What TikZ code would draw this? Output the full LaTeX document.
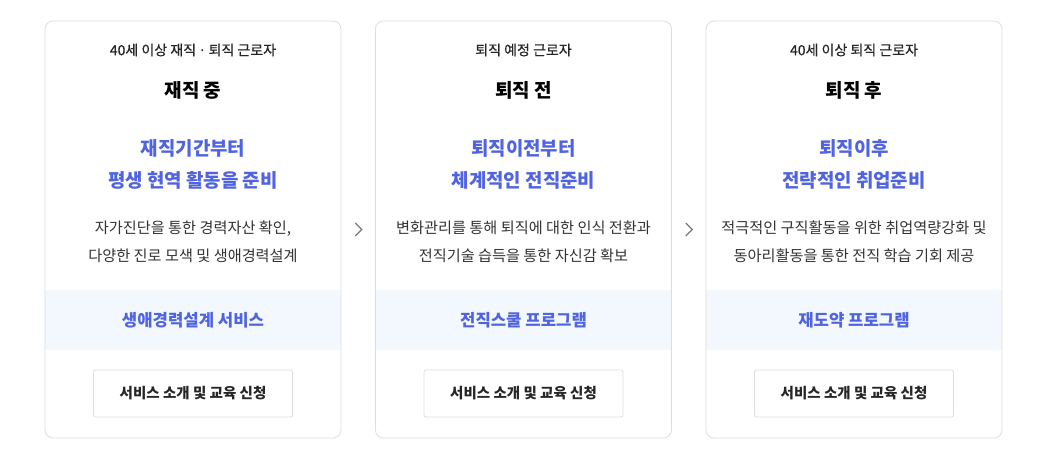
\documentclass[tikz,border=0pt]{standalone}
\usepackage{fontspec}
\setmainfont{Noto Sans CJK KR}
\newfontfamily\medfont{Noto Sans CJK KR}[FakeBold=0.5]
\usetikzlibrary{calc}
\definecolor{cardline}{HTML}{DCDEE2}
\definecolor{bandfill}{HTML}{F3F7FE}
\definecolor{accent}{HTML}{5064E1}
\definecolor{bodytext}{HTML}{333333}
\definecolor{chevgray}{HTML}{7A7A7A}
\tikzset{
	card/.style={draw=cardline,line width=.8pt,rounded corners=8pt,minimum width=296pt,minimum height=417pt,inner sep=0pt},
	band/.style={fill=bandfill,minimum width=296pt,minimum height=60pt,inner sep=0pt,text=accent,font=\fontsize{16.7}{18}\selectfont\bfseries},
	who/.style={text=black!85,font=\fontsize{14}{16}\selectfont\medfont},
	stage/.style={text=black,font=\fontsize{19}{20}\selectfont\bfseries},
	slogan/.style={align=center,text=accent,font=\fontsize{18.9}{32}\selectfont\bfseries},
	desc/.style={align=center,text=bodytext,font=\fontsize{15.2}{28}\selectfont},
	btn/.style={draw=cardline,line width=.8pt,rounded corners=2pt,minimum width=199pt,minimum height=47pt,inner sep=0pt,text=black!85,font=\fontsize{14.5}{16}\selectfont\bfseries},
	chev/.style={draw=chevgray,line width=1.2pt}
}
\begin{document}
\begin{tikzpicture}[x=1pt,y=-1pt]
	\useasboundingbox[fill=white] (0,0) rectangle (1040,453);
	\foreach \cx/\who/\stage/\sloganA/\sloganB/\descA/\descB/\prog[count=\i] in {
			193/40세 이상 재직\,·\,퇴직 근로자/재직 중/재직기간부터/평생 현역 활동을 준비/{자가진단을 통한 경력자산 확인,}/다양한 진로 모색 및 생애경력설계/생애경력설계 서비스,
			523.5/퇴직 예정 근로자/퇴직 전/퇴직이전부터/체계적인 전직준비/변화관리를 통해 퇴직에 대한 인식 전환과/전직기술 습득을 통한 자신감 확보/전직스쿨 프로그램,
			854/40세 이상 퇴직 근로자/퇴직 후/퇴직이후/전략적인 취업준비/적극적인 구직활동을 위한 취업역량강화 및/동아리활동을 통한 전직 학습 기회 제공/재도약 프로그램
		}{
		\node[band](band\i) at(\cx,320){\prog};
		\node[card](card\i) at(\cx,229.5){};
		\node[who](who\i) at(\cx,50){\who};
		\node[stage](stage\i) at(\cx,90){\stage};
		\node[slogan](slogan\i) at(\cx,164){\sloganA\\\sloganB};
		\node[desc](desc\i) at(\cx,242){\descA\\\descB};
		\node[btn](btn\i) at(\cx,393.5){서비스 소개 및 교육 신청};
	}
	\foreach \i[evaluate=\i as \j using int(\i+1)] in {1,2}{
		\path (card\i.east) -- (card\j.west) coordinate[midway] (gap\i);
		\draw[chev] ([shift={(-3,-6.5)}]gap\i) -- ([shift={(3.5,0)}]gap\i) -- ([shift={(-3,6.5)}]gap\i);
	}
\end{tikzpicture}
\end{document}
